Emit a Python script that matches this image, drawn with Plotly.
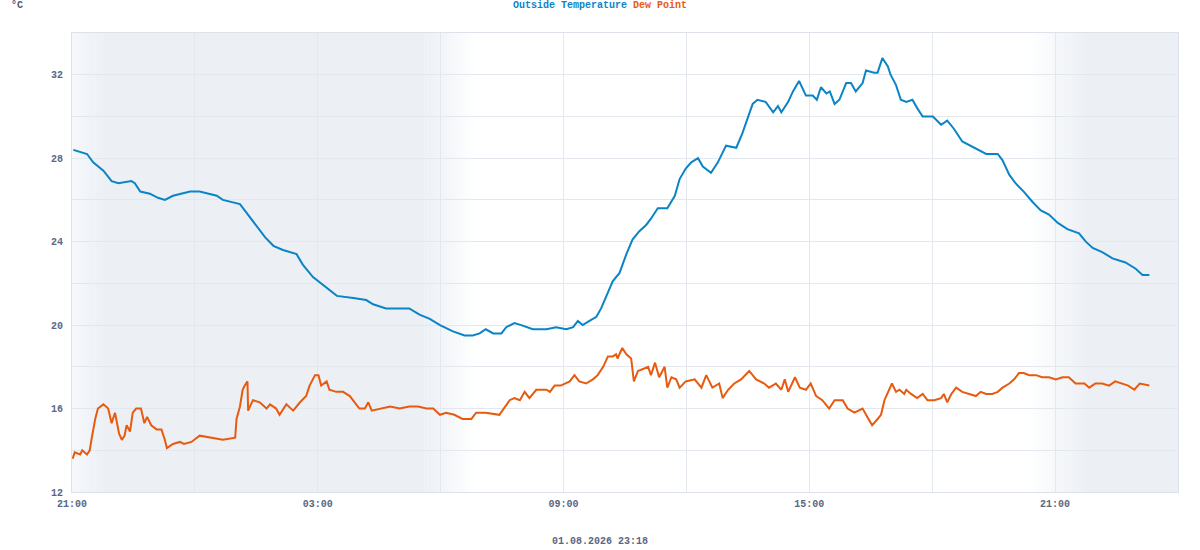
import plotly.graph_objects as go
import pandas as pd

# ---------------- data ----------------
temp_times = [
    "21:02", "21:22", "21:31", "21:46", "21:58", "22:08", "22:27", "22:32", "22:40", "22:54",
    "23:06", "23:16", "23:28", "23:40", "23:53", "00:07", "00:22", "00:32", "00:41", "01:06",
    "01:13", "01:20", "01:30", "01:43", "01:55", "02:09", "02:29", "02:38", "02:53", "03:08",
    "03:28", "03:52", "04:11", "04:21", "04:40", "05:02", "05:14", "05:29", "05:44", "05:59",
    "06:18", "06:35", "06:47", "06:57", "07:06", "07:17", "07:29", "07:36", "07:48", "07:58",
    "08:08", "08:15", "08:35", "08:49", "09:04", "09:14", "09:21", "09:28", "09:38", "09:48",
    "09:55", "10:05", "10:12", "10:22", "10:32", "10:41", "10:51", "11:01", "11:08", "11:18",
    "11:32", "11:43", "11:50", "11:59", "12:07", "12:17", "12:24", "12:36", "12:46", "12:58",
    "13:13", "13:22", "13:30", "13:37", "13:44", "13:56", "14:07", "14:14", "14:19", "14:29",
    "14:36", "14:45", "14:55", "15:05", "15:11", "15:17", "15:25", "15:30", "15:37", "15:44",
    "15:54", "16:01", "16:08", "16:18", "16:23", "16:35", "16:40", "16:47", "16:55", "16:59",
    "17:07", "17:14", "17:22", "17:31", "17:38", "17:46", "18:01", "18:13", "18:22", "18:32",
    "18:44", "18:56", "19:09", "19:19", "19:36", "19:43", "19:53", "20:02", "20:14", "20:27",
    "20:39", "20:51", "21:04", "21:18", "21:35", "21:45", "21:55", "22:09", "22:24", "22:43",
    "22:58", "23:08", "23:18",
]
temp_values = [
    28.4, 28.2, 27.8, 27.4, 26.9, 26.8, 26.9, 26.8, 26.4, 26.3,
    26.1, 26.0, 26.2, 26.3, 26.4, 26.4, 26.3, 26.2, 26.0, 25.8,
    25.5, 25.2, 24.8, 24.2, 23.8, 23.6, 23.4, 22.9, 22.3, 21.9,
    21.4, 21.3, 21.2, 21.0, 20.8, 20.8, 20.8, 20.5, 20.3, 20.0,
    19.7, 19.5, 19.5, 19.6, 19.8, 19.6, 19.6, 19.9, 20.1, 20.0,
    19.9, 19.8, 19.8, 19.9, 19.8, 19.9, 20.2, 20.0, 20.2, 20.4,
    20.8, 21.6, 22.1, 22.5, 23.4, 24.1, 24.5, 24.8, 25.1, 25.6,
    25.6, 26.2, 27.0, 27.5, 27.8, 28.0, 27.6, 27.3, 27.8, 28.6,
    28.5, 29.2, 29.9, 30.6, 30.8, 30.7, 30.2, 30.5, 30.2, 30.7,
    31.2, 31.7, 31.0, 31.0, 30.8, 31.4, 31.1, 31.2, 30.6, 30.8,
    31.6, 31.6, 31.2, 31.6, 32.2, 32.1, 32.1, 32.8, 32.4, 32.0,
    31.5, 30.8, 30.7, 30.8, 30.4, 30.0, 30.0, 29.6, 29.8, 29.4,
    28.8, 28.6, 28.4, 28.2, 28.2, 27.9, 27.2, 26.8, 26.4, 25.9,
    25.5, 25.3, 24.9, 24.6, 24.4, 24.0, 23.7, 23.5, 23.2, 23.0,
    22.7, 22.4, 22.4,
]

dew_times = [
    "21:01", "21:04", "21:12", "21:15", "21:22", "21:26", "21:29", "21:34", "21:38", "21:46",
    "21:53", "21:58", "22:03", "22:09", "22:13", "22:17", "22:20", "22:25", "22:29", "22:34",
    "22:41", "22:46", "22:50", "22:56", "23:04", "23:11", "23:16", "23:19", "23:28", "23:38",
    "23:44", "23:55", "00:07", "00:27", "00:41", "00:59", "01:01", "01:06", "01:10", "01:13",
    "01:17", "01:18", "01:25", "01:35", "01:45", "01:50", "01:59", "02:04", "02:14", "02:24",
    "02:34", "02:43", "02:48", "02:56", "03:01", "03:05", "03:13", "03:17", "03:27", "03:37",
    "03:47", "03:54", "04:01", "04:09", "04:14", "04:19", "04:31", "04:46", "05:00", "05:14",
    "05:27", "05:39", "05:49", "05:59", "06:08", "06:20", "06:32", "06:45", "06:52", "07:06",
    "07:26", "07:34", "07:41", "07:48", "07:56", "08:03", "08:10", "08:20", "08:35", "08:40",
    "08:47", "08:56", "09:09", "09:16", "09:23", "09:33", "09:43", "09:50", "09:58", "10:05",
    "10:12", "10:17", "10:19", "10:26", "10:32", "10:39", "10:43", "10:49", "10:56", "11:04",
    "11:08", "11:14", "11:20", "11:28", "11:32", "11:38", "11:45", "11:50", "11:59", "12:12",
    "12:22", "12:29", "12:38", "12:48", "12:53", "13:01", "13:10", "13:20", "13:32", "13:42",
    "13:54", "14:01", "14:11", "14:19", "14:24", "14:29", "14:39", "14:46", "14:55", "15:02",
    "15:10", "15:19", "15:29", "15:37", "15:49", "15:56", "16:06", "16:18", "16:25", "16:32",
    "16:40", "16:45", "16:50", "16:55", "17:01", "17:07", "17:12", "17:19", "17:22", "17:29",
    "17:38", "17:46", "17:53", "18:03", "18:13", "18:17", "18:22", "18:28", "18:35", "18:44",
    "18:54", "19:04", "19:11", "19:19", "19:28", "19:36", "19:43", "19:53", "20:00", "20:07",
    "20:14", "20:22", "20:32", "20:41", "20:51", "21:01", "21:11", "21:20", "21:30", "21:43",
    "21:50", "21:59", "22:09", "22:19", "22:28", "22:38", "22:47", "22:56", "23:04", "23:18",
]
dew_values = [
    13.6, 13.9, 13.8, 14.0, 13.8, 14.0, 14.6, 15.5, 16.0, 16.2,
    16.0, 15.3, 15.8, 14.8, 14.5, 14.7, 15.2, 14.9, 15.8, 16.0,
    16.0, 15.3, 15.6, 15.2, 15.0, 15.0, 14.5, 14.1, 14.3, 14.4,
    14.3, 14.4, 14.7, 14.6, 14.5, 14.6, 15.5, 16.1, 16.9, 17.1,
    17.3, 15.9, 16.4, 16.3, 16.0, 16.2, 16.0, 15.7, 16.2, 15.9,
    16.3, 16.6, 17.1, 17.6, 17.6, 17.1, 17.3, 16.9, 16.8, 16.8,
    16.6, 16.3, 16.0, 16.0, 16.3, 15.9, 16.0, 16.1, 16.0, 16.1,
    16.1, 16.0, 16.0, 15.7, 15.8, 15.7, 15.5, 15.5, 15.8, 15.8,
    15.7, 16.1, 16.4, 16.5, 16.4, 16.8, 16.5, 16.9, 16.9, 16.8,
    17.1, 17.1, 17.3, 17.6, 17.3, 17.2, 17.4, 17.6, 18.0, 18.5,
    18.5, 18.6, 18.4, 18.9, 18.6, 18.4, 17.3, 17.8, 17.9, 18.0,
    17.6, 18.2, 17.5, 18.0, 17.0, 17.5, 17.4, 17.0, 17.3, 17.4,
    17.0, 17.6, 17.0, 17.2, 16.5, 16.9, 17.2, 17.4, 17.8, 17.4,
    17.2, 17.0, 17.2, 16.9, 17.4, 16.8, 17.5, 17.0, 16.9, 17.2,
    16.6, 16.4, 16.0, 16.4, 16.4, 16.0, 15.8, 16.0, 15.6, 15.2,
    15.5, 15.7, 16.4, 16.8, 17.2, 16.8, 16.9, 16.7, 16.9, 16.7,
    16.5, 16.7, 16.4, 16.4, 16.5, 16.7, 16.3, 16.7, 17.0, 16.8,
    16.7, 16.6, 16.8, 16.7, 16.7, 16.8, 17.0, 17.2, 17.4, 17.7,
    17.7, 17.6, 17.6, 17.5, 17.5, 17.4, 17.5, 17.5, 17.2, 17.2,
    17.0, 17.2, 17.2, 17.1, 17.3, 17.2, 17.1, 16.9, 17.2, 17.1,
]

# night periods: (dusk fade start, dusk fade end, dawn fade start, dawn fade end)
night_periods = [
    ("2026-07-31 20:20", "2026-07-31 21:45", "2026-08-01 05:36", "2026-08-01 06:53"),
    ("2026-08-01 20:20", "2026-08-01 21:45", "2026-08-02 05:36", "2026-08-02 06:53"),
]

series_names = ["Outside Temperature", "Dew Point"]
y_tick_values = [12, 16, 20, 24, 28, 32]
x_start = "2026-07-31 21:00"
x_end = "2026-08-02 00:00"
footer_text = "01.08.2026 23:18"
unit_text = "°C"

# ---------------- styles ----------------
BLUE = "#0b84c6"
ORANGE = "#e85a0e"
NIGHT = "rgb(236,240,245)"
GRID = "#e3e7ee"
TICK = "#5a6783"
FONT = "Liberation Mono"
PLOT_W, PLOT_H = 1106, 459


def to_ts(times, start_date="2026-07-31"):
    base = pd.Timestamp(start_date)
    out, day, prev = [], 0, -1
    for s in times:
        h, m = map(int, s.split(":"))
        mins = h * 60 + m
        if mins < prev:
            day += 1
        prev = mins
        out.append(base + pd.Timedelta(days=day, minutes=mins))
    return out


fig = go.Figure()
fig.add_trace(go.Scatter(x=to_ts(temp_times), y=temp_values, mode="lines",
                         name=series_names[0], line=dict(color=BLUE, width=2)))
fig.add_trace(go.Scatter(x=to_ts(dew_times), y=dew_values, mode="lines",
                         name=series_names[1], line=dict(color=ORANGE, width=2)))

# night shading with gradient edges
xs, xe = pd.Timestamp(x_start), pd.Timestamp(x_end)
shapes = []
N = 16


def add_rect(a, b, op):
    a, b = max(a, xs), min(b, xe)
    if b <= a:
        return
    shapes.append(dict(type="rect", xref="x", yref="paper", x0=a, x1=b, y0=0, y1=1,
                       fillcolor=NIGHT, opacity=op, line=dict(width=0), layer="below"))


for d0, d1, w0, w1 in night_periods:
    d0, d1, w0, w1 = map(pd.Timestamp, (d0, d1, w0, w1))
    step = (d1 - d0) / N
    for i in range(N):
        add_rect(d0 + step * i, d0 + step * (i + 1) + pd.Timedelta(seconds=20), (i + 0.5) / N)
    add_rect(d1, w0 + pd.Timedelta(seconds=20), 1.0)
    step = (w1 - w0) / N
    for i in range(N):
        add_rect(w0 + step * i, w0 + step * (i + 1) + pd.Timedelta(seconds=20), 1 - (i + 0.5) / N)

fig.update_layout(
    width=1200, height=550,
    margin=dict(l=72, r=22, t=33, b=58),
    paper_bgcolor="white", plot_bgcolor="white",
    showlegend=False,
    font=dict(family=FONT, size=10, color=TICK, weight="bold"),
    shapes=shapes,
    annotations=[
        dict(xref="paper", yref="paper", x=(600 - 72) / PLOT_W, y=1 + 27 / PLOT_H,
             xanchor="center", yanchor="middle",
             showarrow=False, font=dict(family=FONT, size=10, weight="bold"),
             text=f"<span style='color:{BLUE}'>{series_names[0]}</span> "
                  f"<span style='color:{ORANGE}'>{series_names[1]}</span>"),
        dict(xref="paper", yref="paper", x=(9 - 72) / PLOT_W, y=1 + 27 / PLOT_H,
             xanchor="left", yanchor="middle",
             showarrow=False, text=unit_text,
             font=dict(family=FONT, size=10, color="#4a5570", weight="bold")),
        dict(xref="paper", yref="paper", x=(600 - 72) / PLOT_W, y=-49 / PLOT_H,
             xanchor="center", yanchor="middle",
             showarrow=False, text=footer_text,
             font=dict(family=FONT, size=10, color=TICK, weight="bold")),
    ],
)

fig.update_xaxes(
    type="date", range=[xs, xe],
    tick0=x_start, dtick=6 * 3600 * 1000, tickformat="%H:%M",
    showgrid=True, gridcolor=GRID, gridwidth=1,
    minor=dict(dtick=3 * 3600 * 1000, tick0=x_start, showgrid=True, gridcolor=GRID),
    showline=True, linecolor="#dde2ea", linewidth=1, mirror=True,
    ticks="", zeroline=False, ticklabelstandoff=2,
    tickfont=dict(family=FONT, size=10, color=TICK, weight="bold"),
)
fig.update_yaxes(
    range=[12, 34], tickmode="array", tickvals=y_tick_values,
    showgrid=True, gridcolor=GRID, gridwidth=1,
    minor=dict(dtick=2, tick0=12, showgrid=True, gridcolor=GRID),
    showline=True, linecolor="#dde2ea", linewidth=1, mirror=True,
    ticks="", zeroline=False, ticklabelstandoff=6,
    tickfont=dict(family=FONT, size=10, color=TICK, weight="bold"),
)

fig.write_html("out.html", config={"displayModeBar": False},
               post_script="document.body.style.margin='0';document.body.style.overflow='hidden';")
